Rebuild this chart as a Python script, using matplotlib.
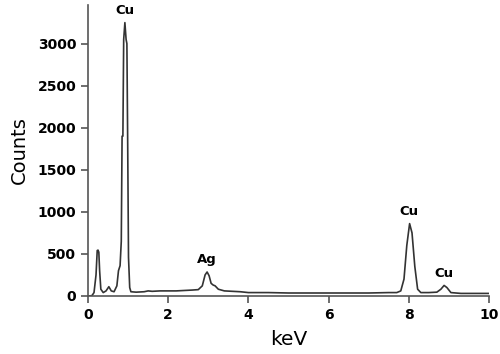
import matplotlib
matplotlib.use("Agg")
import matplotlib.pyplot as plt

# EDS spectrum
energy = [0.00, 0.05, 0.10, 0.15, 0.20, 0.23, 0.25, 0.27, 0.29, 0.32, 0.38, 0.45,
          0.52, 0.58, 0.65, 0.72, 0.76, 0.80, 0.83, 0.85, 0.87, 0.89, 0.92, 0.95,
          0.97, 0.99, 1.01, 1.04, 1.07, 1.2, 1.4, 1.5, 1.6, 1.8, 2.0, 2.2, 2.4, 2.6,
          2.75, 2.85, 2.92, 2.97, 3.02, 3.07, 3.12, 3.17, 3.25, 3.4, 3.6, 3.8,
          4.0, 4.5, 5.0, 5.5, 6.0, 6.5, 7.0, 7.5, 7.7, 7.8, 7.88, 7.95, 8.02,
          8.08, 8.15, 8.22, 8.3, 8.5, 8.7, 8.8, 8.88, 8.95, 9.05, 9.3, 9.6, 10.0]
counts = [0, 0, 5, 40, 250, 540, 545, 520, 300, 80, 40, 60,
          110, 60, 50, 120, 300, 360, 650, 1900, 1900, 3050, 3250, 3050,
          3000, 1800, 460, 100, 50, 45, 50, 60, 55, 60, 60, 60, 65, 70,
          75, 120, 250, 285, 240, 150, 130, 120, 80, 60, 55, 50,
          40, 40, 35, 35, 35, 35, 35, 40, 40, 60, 200, 600, 860,
          750, 350, 80, 40, 40, 45, 80, 125, 100, 40, 30, 30, 30]

peak_labels = ["Cu", "Ag", "Cu", "Cu"]
peak_x = [0.93, 2.97, 8.0, 8.88]
peak_y = [3250, 285, 860, 125]

fig = plt.figure(figsize=(5, 3.54), dpi=100)
ax = fig.add_axes([0.176, 0.164, 0.802, 0.822])

ax.plot(energy, counts, color="#333333", lw=1.2)

for lab, px, py in zip(peak_labels, peak_x, peak_y):
    ax.annotate(lab, (px, py), xytext=(0, 4), textcoords="offset points",
                ha="center", va="bottom", fontsize=9.5, fontweight="bold")

ax.set_xlim(0, 10)
ax.set_ylim(0, 3460)
ax.set_xticks([0, 2, 4, 6, 8, 10])
ax.set_yticks([0, 500, 1000, 1500, 2000, 2500, 3000])
for s in ["top", "right"]:
    ax.spines[s].set_visible(False)
for s in ["left", "bottom"]:
    ax.spines[s].set_color("#555555")
    ax.spines[s].set_linewidth(1.2)
ax.tick_params(direction="out", length=5, width=1.2, color="#555555", labelsize=10)
for t in ax.get_xticklabels() + ax.get_yticklabels():
    t.set_fontweight("bold")

ax.set_xlabel("keV", fontsize=14.5, labelpad=6)
ax.set_ylabel("Counts", fontsize=14, labelpad=6)

fig.savefig("out.png", dpi=100)
